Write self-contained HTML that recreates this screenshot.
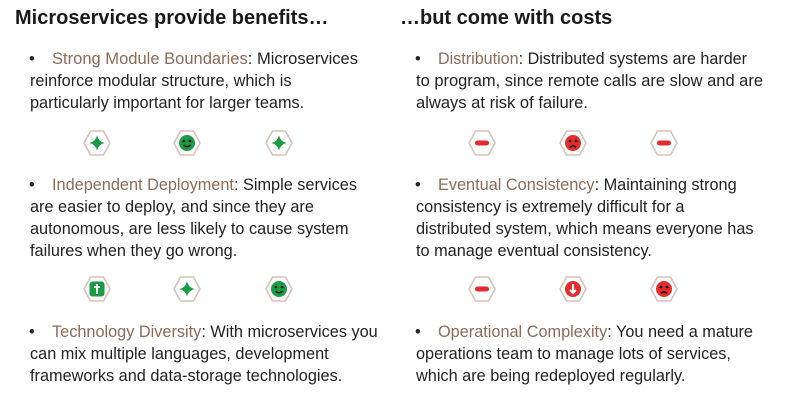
<!DOCTYPE html>
<html><head><meta charset="utf-8"><style>
html,body{margin:0;padding:0;background:#fff;}
svg{display:block;}
text{font-family:"Liberation Sans","NanumGothic",sans-serif;font-size:16.3px;fill:#222;}
.t{font-size:20px;font-weight:bold;fill:#1a1a1a;}
.l{fill:#8c6b58;}
</style></head><body>
<svg width="800" height="401" viewBox="0 0 800 401" xmlns="http://www.w3.org/2000/svg">
<defs>
<g id="hex"><polygon points="-13,0 -6.5,-12 6.5,-12 13,0 6.5,12 -6.5,12" fill="#fff" stroke="#d6c3b7" stroke-width="1.6"/></g>
<g id="plus"><use href="#hex"/><path d="M0,-7.5 Q1.5,-1.5 7.5,0 Q1.5,1.5 0,7.5 Q-1.5,1.5 -7.5,0 Q-1.5,-1.5 0,-7.5Z" fill="#1a9b45"/></g>
<g id="smile"><use href="#hex"/><circle r="8" fill="#1a9b45"/><circle cx="-3" cy="-2" r="1.3" fill="#111"/><circle cx="3" cy="-2" r="1.3" fill="#111"/><path d="M-3.5,2 Q0,5.5 3.5,2" stroke="#111" stroke-width="1.3" fill="none"/></g>
<g id="shield"><use href="#hex"/><rect x="-7.5" y="-7.5" width="15" height="15" rx="3" fill="#1a9b45"/><path d="M0,-5 V5 M-3,-2 H3" stroke="#fff" stroke-width="2"/></g>
<g id="minus"><use href="#hex"/><rect x="-7" y="-2.5" width="14" height="5" rx="2.5" fill="#e52b2b"/></g>
<g id="sad"><use href="#hex"/><circle r="8" fill="#e52b2b"/><circle cx="-3" cy="-2" r="1.4" fill="#111"/><circle cx="3" cy="-2" r="1.4" fill="#111"/><path d="M-3,4.5 Q0,1 3,4.5" stroke="#111" stroke-width="1.4" fill="none"/></g>
<g id="down"><use href="#hex"/><circle r="8" fill="#e52b2b"/><path d="M0,-5 V4 M-3,1 L0,4 L3,1" stroke="#fff" stroke-width="2" fill="none"/></g>
</defs>

<text class="t" x="15" y="24">Microservices provide benefits…</text>
<text class="t" x="400" y="24">…but come with costs</text>

<text x="29" y="64">•</text>
<text x="52" y="64" textLength="306" lengthAdjust="spacingAndGlyphs"><tspan class="l">Strong Module Boundaries</tspan>: Microservices</text>
<text x="30" y="86">reinforce modular structure, which is</text>
<text x="30" y="108">particularly important for larger teams.</text>

<text x="29" y="190">•</text>
<text x="52" y="190"><tspan class="l">Independent Deployment</tspan>: Simple services</text>
<text x="30" y="212">are easier to deploy, and since they are</text>
<text x="30" y="234">autonomous, are less likely to cause system</text>
<text x="30" y="256">failures when they go wrong.</text>

<text x="29" y="337">•</text>
<text x="52" y="337"><tspan class="l">Technology Diversity</tspan>: With microservices you</text>
<text x="30" y="359">can mix multiple languages, development</text>
<text x="30" y="381">frameworks and data-storage technologies.</text>

<text x="415" y="64">•</text>
<text x="438" y="64" textLength="309" lengthAdjust="spacingAndGlyphs"><tspan class="l">Distribution</tspan>: Distributed systems are harder</text>
<text x="416" y="86" textLength="347" lengthAdjust="spacingAndGlyphs">to program, since remote calls are slow and are</text>
<text x="416" y="108" textLength="172" lengthAdjust="spacingAndGlyphs">always at risk of failure.</text>

<text x="415" y="190">•</text>
<text x="438" y="190"><tspan class="l">Eventual Consistency</tspan>: Maintaining strong</text>
<text x="416" y="212">consistency is extremely difficult for a</text>
<text x="416" y="234">distributed system, which means everyone has</text>
<text x="416" y="256">to manage eventual consistency.</text>

<text x="415" y="337">•</text>
<text x="438" y="337"><tspan class="l">Operational Complexity</tspan>: You need a mature</text>
<text x="416" y="359">operations team to manage lots of services,</text>
<text x="416" y="381">which are being redeployed regularly.</text>

<use href="#plus" x="97" y="143"/>
<use href="#smile" x="187" y="143"/>
<use href="#plus" x="279" y="143"/>
<use href="#shield" x="97" y="289"/>
<use href="#plus" x="187" y="289"/>
<use href="#smile" x="279" y="289"/>

<use href="#minus" x="482" y="143"/>
<use href="#sad" x="573" y="143"/>
<use href="#minus" x="664" y="143"/>
<use href="#minus" x="482" y="289"/>
<use href="#down" x="573" y="289"/>
<use href="#sad" x="664" y="289"/>
</svg>
</body></html>
